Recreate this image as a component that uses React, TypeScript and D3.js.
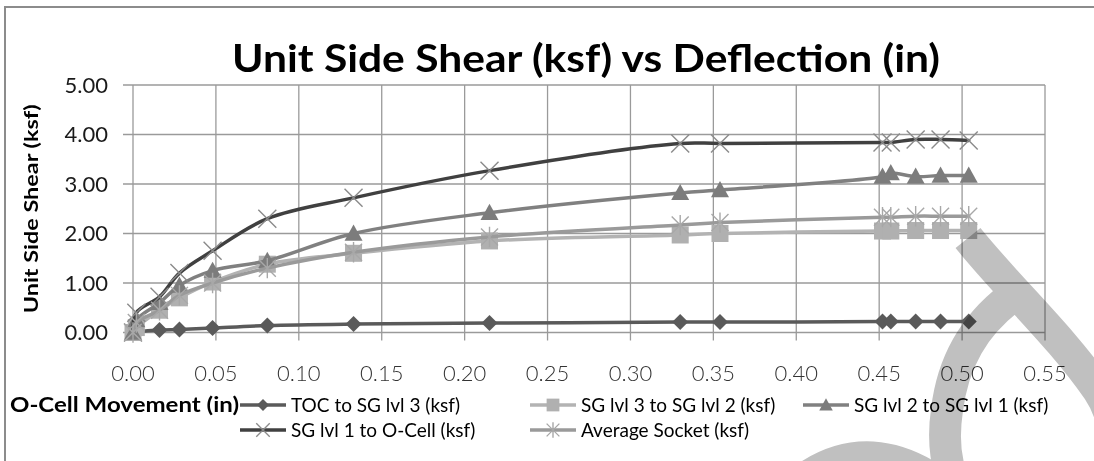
import React from 'react';
import * as d3 from 'd3';

// ---------- data ----------
const movement = [0, 0.002, 0.016, 0.028, 0.048, 0.081, 0.133, 0.215, 0.33, 0.354, 0.452, 0.457, 0.472, 0.487, 0.504];
const tocToSg3 = [0, 0.01, 0.05, 0.06, 0.09, 0.14, 0.17, 0.19, 0.21, 0.21, 0.22, 0.22, 0.22, 0.22, 0.22];
const sg3ToSg2 = [0, 0.1, 0.45, 0.7, 1.02, 1.38, 1.6, 1.85, 1.97, 2.0, 2.05, 2.05, 2.06, 2.06, 2.06];
const sg2ToSg1 = [0, 0.25, 0.6, 0.95, 1.25, 1.45, 2.0, 2.42, 2.82, 2.88, 3.15, 3.22, 3.15, 3.17, 3.17];
const sg1ToOCell = [0, 0.4, 0.72, 1.2, 1.65, 2.3, 2.72, 3.27, 3.82, 3.82, 3.84, 3.84, 3.9, 3.9, 3.88];
const averageSocket = [0, 0.2, 0.45, 0.75, 1.0, 1.3, 1.62, 1.93, 2.17, 2.22, 2.33, 2.33, 2.35, 2.35, 2.35];

const seriesNames = [
  'TOC to SG lvl 3 (ksf)',
  'SG lvl 3 to SG lvl 2 (ksf)',
  'SG lvl 2 to SG lvl 1 (ksf)',
  'SG lvl 1 to O-Cell (ksf)',
  'Average Socket (ksf)',
];
const seriesValues = [tocToSg3, sg3ToSg2, sg2ToSg1, sg1ToOCell, averageSocket];
const xTicks = [0, 0.05, 0.1, 0.15, 0.2, 0.25, 0.3, 0.35, 0.4, 0.45, 0.5, 0.55];
const yTicks = [0, 1, 2, 3, 4, 5];

const title = 'Unit Side Shear (ksf) vs Deflection (in)';
const xTitle = 'O-Cell Movement (in)';
const yTitle = 'Unit Side Shear (ksf)';

// ---------- styles ----------
type MarkerKind = 'diamond' | 'square' | 'triangle' | 'x' | 'star';
const styles: { line: string; marker: string; kind: MarkerKind }[] = [
  { line: '#5a5a5a', marker: '#5a5a5a', kind: 'diamond' },
  { line: '#b3b3b3', marker: '#b0b0b0', kind: 'square' },
  { line: '#808080', marker: '#7c7c7c', kind: 'triangle' },
  { line: '#404040', marker: '#8a8a8a', kind: 'x' },
  { line: '#9a9a9a', marker: '#a8a8a8', kind: 'star' },
];

const W = 1094;
const H = 461;
const M = { left: 133, right: 1045, top: 85, bottom: 332.5 };
const FONT = 'Lato, "Open Sans", "DejaVu Sans", sans-serif';

function Marker({ kind, x, y, color, s = 1 }: { kind: MarkerKind; x: number; y: number; color: string; s?: number }) {
  switch (kind) {
    case 'diamond': {
      const r = 8 * s;
      return <path d={`M${x},${y - r}L${x + r},${y}L${x},${y + r}L${x - r},${y}Z`} fill={color} />;
    }
    case 'square': {
      const r = 8.5 * s;
      return <rect x={x - r} y={y - r} width={2 * r} height={2 * r} fill={color} />;
    }
    case 'triangle': {
      const r = 9 * s;
      return <path d={`M${x},${y - r}L${x + r},${y + r * 0.8}L${x - r},${y + r * 0.8}Z`} fill={color} />;
    }
    case 'x': {
      const r = 9 * s;
      return (
        <path d={`M${x - r},${y - r}L${x + r},${y + r}M${x - r},${y + r}L${x + r},${y - r}`} stroke={color} strokeWidth={1.4} fill="none" />
      );
    }
    case 'star': {
      const r = 8.5 * s;
      return (
        <path
          d={`M${x - r},${y - r}L${x + r},${y + r}M${x - r},${y + r}L${x + r},${y - r}M${x},${y - r * 1.2}L${x},${y + r * 1.2}`}
          stroke={color}
          strokeWidth={1.4}
          fill="none"
        />
      );
    }
  }
  return null;
}

export default function App() {
  const x = d3.scaleLinear().domain([0, 0.55]).range([M.left, M.right]);
  const y = d3.scaleLinear().domain([0, 5]).range([M.bottom, M.top]);
  const line = d3
    .line<number>()
    .x((_, i) => x(movement[i]))
    .y((d) => y(d))
    .curve(d3.curveCatmullRom.alpha(0.5));

  const legendCols = [240, 530, 803];
  const legendRows = [405, 430];
  const legendPos = [
    [0, 0],
    [1, 0],
    [2, 0],
    [0, 1],
    [1, 1],
  ];

  return (
    <svg width={W} height={H} style={{ position: 'absolute', left: 0, top: 0, background: '#fff' }} fontFamily={FONT}>
      <rect x={0} y={0} width={W} height={H} fill="#fff" />
      {/* outer chart border */}
      <path d={`M5,${H}L5,7L${W},7`} fill="none" stroke="#8c8c8c" strokeWidth={2} />

      {/* title */}
      <text x={232} y={72} fontSize={38} fontWeight={700} fill="#000" textLength={708} lengthAdjust="spacingAndGlyphs">
        {title}
      </text>

      {/* gridlines */}
      {yTicks.map((t) => (
        <line key={'gy' + t} x1={M.left - 10} x2={M.right} y1={y(t)} y2={y(t)} stroke="#9a9a9a" strokeWidth={1.3} />
      ))}
      {xTicks.map((t) => (
        <line key={'gx' + t} x1={x(t)} x2={x(t)} y1={M.top} y2={M.bottom + 8} stroke="#9a9a9a" strokeWidth={1.3} />
      ))}

      {/* y tick labels */}
      {yTicks.map((t) => (
        <text key={'ly' + t} x={108} y={y(t)} dy="0.36em" textAnchor="end" fontSize={22} fill="#1a1a1a">
          {t.toFixed(2)}
        </text>
      ))}
      {/* x tick labels */}
      {xTicks.map((t) => (
        <text key={'lx' + t} x={x(t)} y={381} textAnchor="middle" fontSize={22} fill="#333" fontWeight={300}>
          {t.toFixed(2)}
        </text>
      ))}

      {/* axis titles */}
      <text
        transform={`translate(38,${(M.top + M.bottom) / 2}) rotate(-90)`}
        textAnchor="middle"
        fontSize={19}
        fontWeight={700}
        fill="#000"
        textLength={209}
        lengthAdjust="spacingAndGlyphs"
      >
        {yTitle}
      </text>
      <text x={10} y={412} fontSize={20} fontWeight={700} fill="#000" textLength={229} lengthAdjust="spacingAndGlyphs">
        {xTitle}
      </text>

      {/* series */}
      {seriesValues.map((vals, si) => (
        <g key={'s' + si}>
          <path d={line(vals) || ''} fill="none" stroke={styles[si].line} strokeWidth={3.5} strokeLinejoin="round" strokeLinecap="round" />
          {vals.map((v, i) => (
            <Marker key={i} kind={styles[si].kind} x={x(movement[i])} y={y(v)} color={styles[si].marker} />
          ))}
        </g>
      ))}

      {/* legend */}
      {seriesNames.map((name, si) => {
        const [c, r] = legendPos[si];
        const lx = legendCols[c];
        const ly = legendRows[r];
        return (
          <g key={'lg' + si}>
            <line x1={lx} x2={lx + 46} y1={ly} y2={ly} stroke={styles[si].line} strokeWidth={3.5} />
            <Marker kind={styles[si].kind} x={lx + 23} y={ly} color={styles[si].marker} s={0.75} />
            <text x={lx + 51} y={ly} dy="0.35em" fontSize={19} fill="#000">
              {name}
            </text>
          </g>
        );
      })}

      {/* watermark-like grey band */}
      <g style={{ mixBlendMode: 'multiply' }} fill="none" stroke="#c0c0c0" strokeWidth={32}>
        <path d="M968,238 C1010,290 1060,335 1098,390 C1135,445 1110,530 1030,530 C960,530 938,470 947,410 C953,360 975,325 1010,298" />
        <path d="M790,490 Q870,420 960,500" />
      </g>
    </svg>
  );
}
